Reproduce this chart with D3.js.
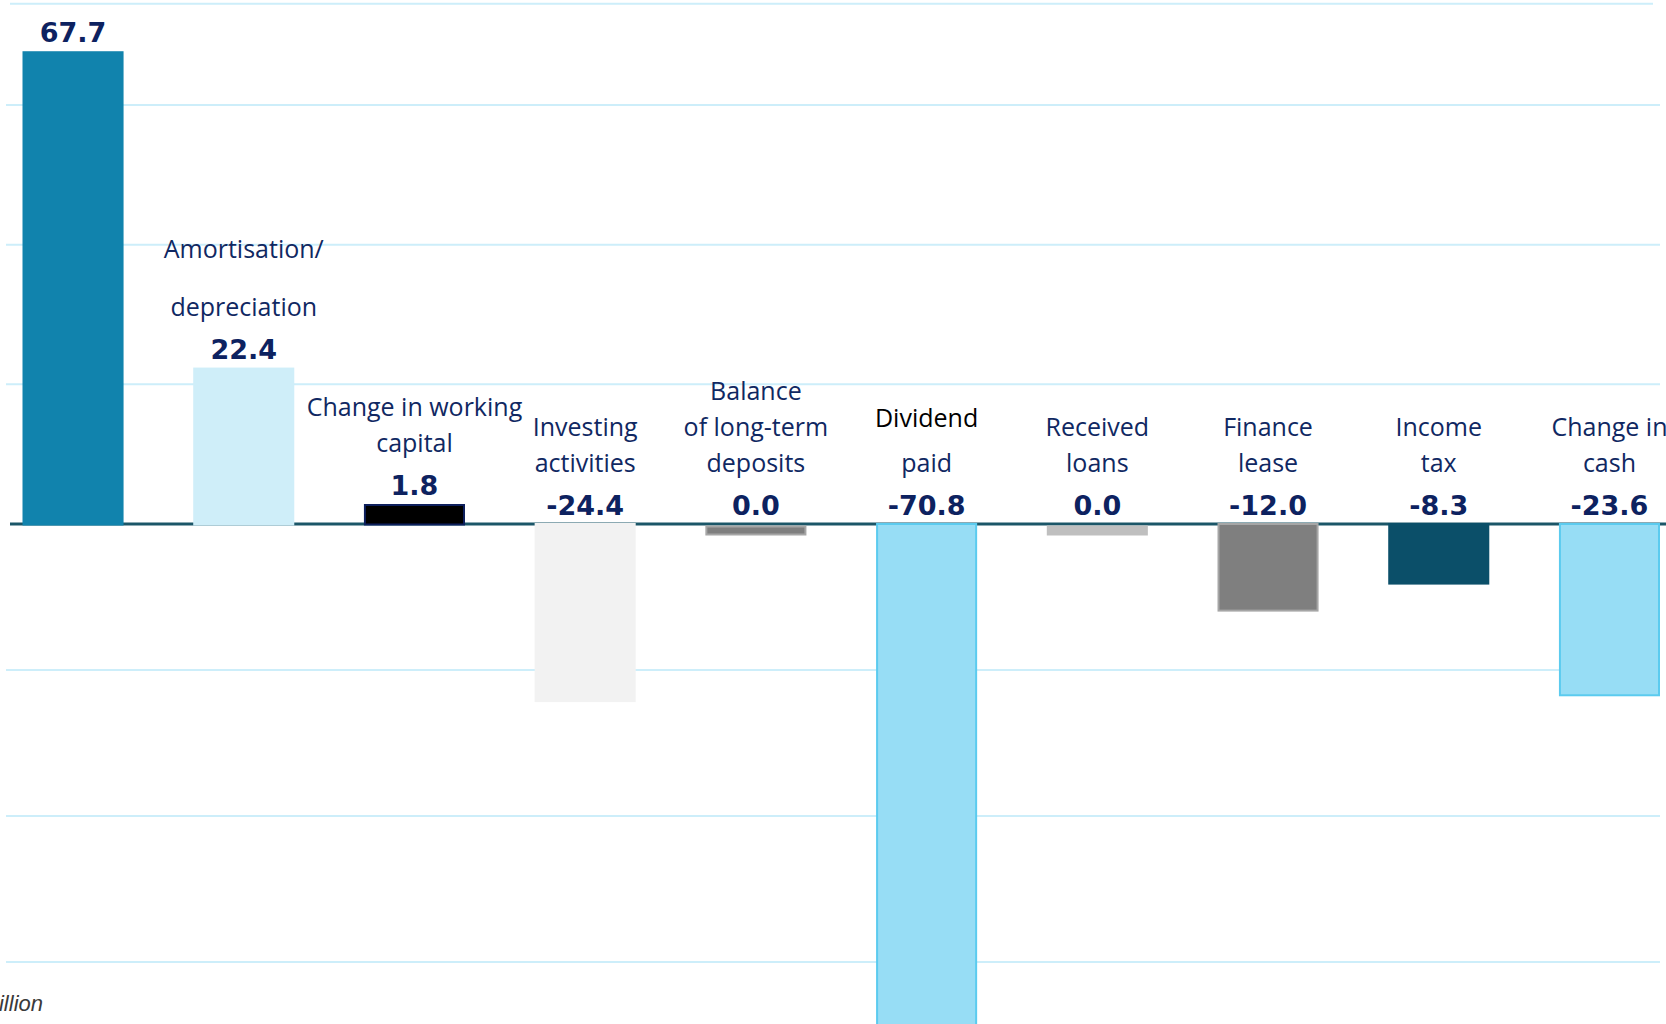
<!DOCTYPE html>
<html>
<head>
<meta charset="utf-8">
<script src="https://cdn.jsdelivr.net/npm/d3@7"></script>
<style>
  html, body { margin: 0; padding: 0; background: #ffffff; overflow: hidden; }
  svg { display: block; }
</style>
</head>
<body>
<svg id="chart" width="1666" height="1024"></svg>
<script>
// ---------- DATA ----------
const categories = [
  "",
  "Amortisation/|depreciation",
  "Change in working|capital",
  "Investing|activities",
  "Balance|of long-term|deposits",
  "Dividend|paid",
  "Received|loans",
  "Finance|lease",
  "Income|tax",
  "Change in|cash"
];
const values = [67.7, 22.4, 1.8, -24.4, 0.0, -70.8, 0.0, -12.0, -8.3, -23.6];
const valueLabels = ["67.7", "22.4", "1.8", "-24.4", "0.0", "-70.8", "0.0", "-12.0", "-8.3", "-23.6"];
const gridTicks = [60, 40, 20, -20, -40, -60];
const frameTop = 74.5;
const unitLabel = "EUR million";

// ---------- STYLES ----------
const barFills   = ["#1183ad", "#cfeef9", "#000000", "#f2f2f2", "#7f7f7f", "#97ddf5", "#bfbfbf", "#7f7f7f", "#0b4f69", "#97ddf5"];
const barStrokes = [null,      null,      "#0d1f5c", null,      "#a6a6a6", "#5bcbef", null,      "#a6a6a6", null,      "#5bcbef"];
const navy = "#102862";
const valueColor = "#0d2260";
const gridColor = "#cdeefa";
const baseColor = "#1b5668";
const lineGapOverride = { 1: 58, 5: 45 };
const firstLineColorOverride = { 5: "#000000" };

// ---------- SCALES ----------
const W = 1666, H = 1024;
const svg = d3.select("#chart");

const x = d3.scaleBand()
  .domain(d3.range(values.length))
  .range([22.5, 1660])
  .paddingInner(0.408)
  .paddingOuter(0);

const y = d3.scaleLinear()
  .domain([-60, 0, 60])
  .range([962, 524, 105]);

const y0 = y(0);

// ---------- GRID ----------
svg.append("line")
  .attr("x1", 10).attr("x2", 1653)
  .attr("y1", y(frameTop)).attr("y2", y(frameTop))
  .attr("stroke", gridColor).attr("stroke-width", 2);

svg.append("g").selectAll("line")
  .data(gridTicks)
  .join("line")
  .attr("x1", 6).attr("x2", 1660)
  .attr("y1", d => y(d)).attr("y2", d => y(d))
  .attr("stroke", gridColor).attr("stroke-width", 2);

// ---------- BASELINE ----------
svg.append("line")
  .attr("x1", 10).attr("x2", W)
  .attr("y1", y0).attr("y2", y0)
  .attr("stroke", baseColor).attr("stroke-width", 3);

// ---------- BARS ----------
const minBarPx = 20, zeroBarPx = 10;
function barGeom(v) {
  let top, bottom;
  if (v > 0) {
    top = Math.min(y(v), y0 - minBarPx);
    bottom = y0 + 1.5;
  } else if (v < 0) {
    top = y0 - 1;
    bottom = Math.max(y(v), y0 + minBarPx);
  } else {
    top = y0 + 1.5;
    bottom = y0 + 1.5 + zeroBarPx;
  }
  return { top, bottom };
}

svg.append("g").selectAll("rect")
  .data(values)
  .join("rect")
  .each(function(v, i) {
    const g = barGeom(v);
    const s = barStrokes[i];
    const inset = s ? 1 : 0;
    d3.select(this)
      .attr("x", x(i) + inset)
      .attr("y", g.top + inset)
      .attr("width", x.bandwidth() - 2 * inset)
      .attr("height", Math.max(0, g.bottom - g.top - 2 * inset))
      .attr("fill", barFills[i])
      .attr("stroke", s || "none")
      .attr("stroke-width", s ? 2 : 0);
  });

// ---------- VALUE LABELS ----------
function valueBaseline(v) {
  const g = barGeom(v);
  return (v > 0 ? g.top : y0) - 9;
}

svg.append("g").selectAll("text")
  .data(values)
  .join("text")
  .attr("x", (v, i) => x(i) + x.bandwidth() / 2)
  .attr("y", v => valueBaseline(v))
  .attr("text-anchor", "middle")
  .attr("font-family", "DejaVu Sans, Verdana, sans-serif")
  .attr("font-weight", "bold")
  .attr("font-size", 27)
  .attr("fill", valueColor)
  .text((v, i) => valueLabels[i]);

// ---------- CATEGORY LABELS ----------
const catG = svg.append("g");
categories.forEach((c, i) => {
  if (!c) return;
  const lines = c.split("|");
  const gap = lineGapOverride[i] || 36;
  const last = valueBaseline(values[i]) - 43;
  lines.forEach((ln, j) => {
    catG.append("text")
      .attr("x", x(i) + x.bandwidth() / 2)
      .attr("y", last - (lines.length - 1 - j) * gap)
      .attr("text-anchor", "middle")
      .attr("font-family", "Open Sans, Noto Sans, sans-serif")
      .attr("font-size", 25)
      .attr("fill", (j === 0 && firstLineColorOverride[i]) ? firstLineColorOverride[i] : navy)
      .text(ln);
  });
});

// ---------- UNIT LABEL ----------
svg.append("text")
  .attr("x", 43)
  .attr("y", 1011)
  .attr("text-anchor", "end")
  .attr("font-family", "Liberation Sans, Arial, sans-serif")
  .attr("font-style", "italic")
  .attr("font-size", 22)
  .attr("fill", "#3a3a3a")
  .text(unitLabel);
</script>
</body>
</html>
